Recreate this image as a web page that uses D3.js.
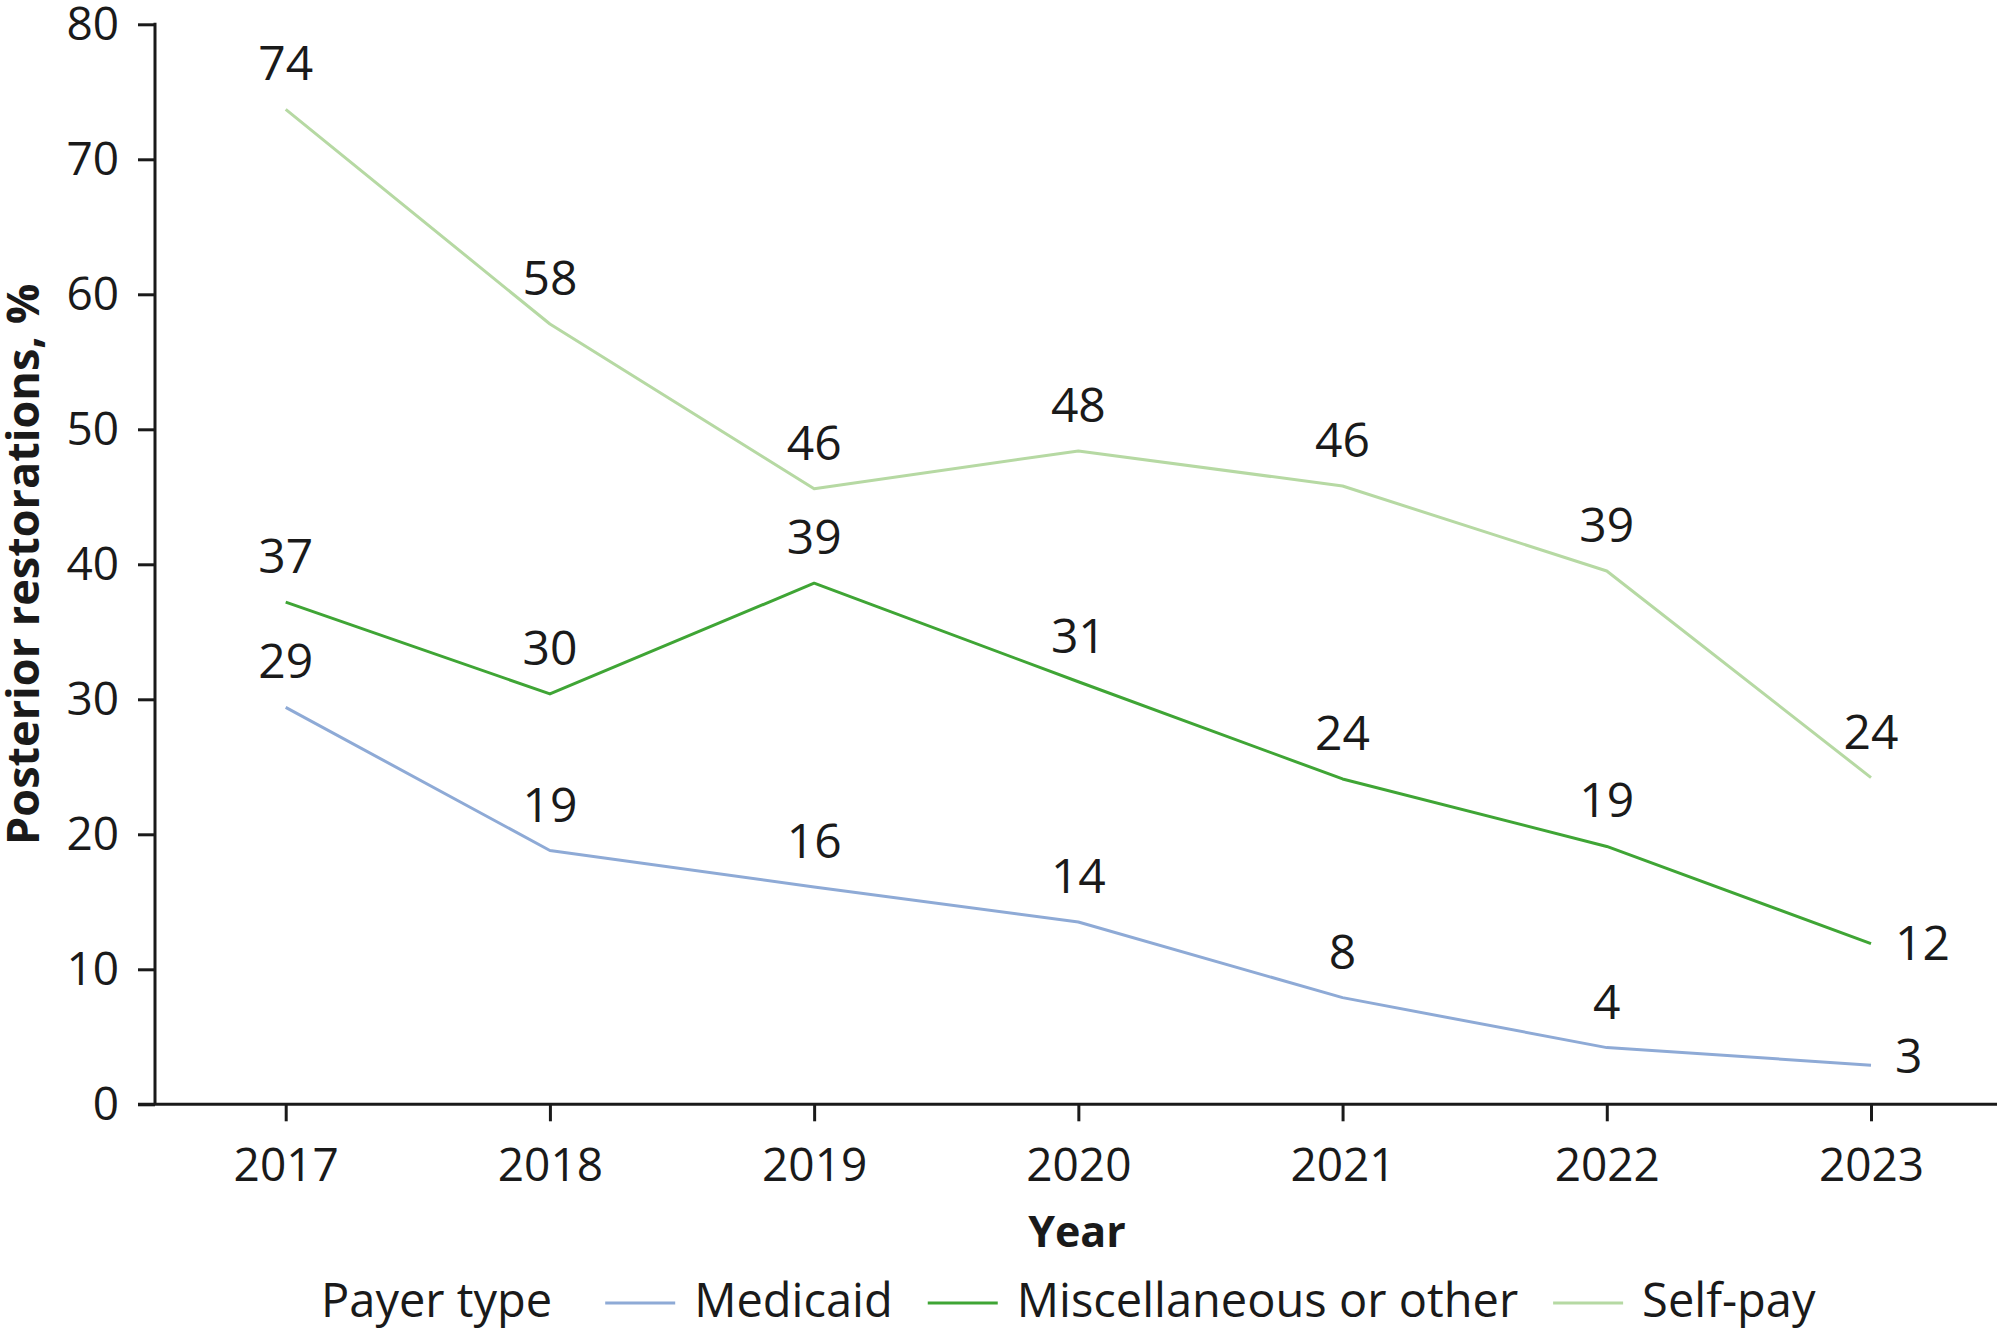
<!DOCTYPE html>
<html>
<head>
<meta charset="utf-8">
<script src="https://cdn.jsdelivr.net/npm/d3@7"></script>
<style>
  html, body { margin: 0; padding: 0; background: #fff; }
  svg { display: block; }
  text { font-family: "Open Sans", "Noto Sans", sans-serif; fill: #1a1a1a; font-weight: 500; }
</style>
</head>
<body>
<svg id="chart" width="1997" height="1334"></svg>
<script>
// ---- data ----
const years = ["2017", "2018", "2019", "2020", "2021", "2022", "2023"];
const seriesNames = ["Medicaid", "Miscellaneous or other", "Self-pay"];
const medicaid = [29.4, 18.8, 16.1, 13.5, 7.9, 4.2, 2.9];
const miscOther = [37.2, 30.4, 38.6, 31.3, 24.1, 19.1, 11.9];
const selfPay = [73.7, 57.8, 45.6, 48.4, 45.8, 39.5, 24.2];
const medicaidLabels = ["29", "19", "16", "14", "8", "4", "3"];
const miscLabels = ["37", "30", "39", "31", "24", "19", "12"];
const selfPayLabels = ["74", "58", "46", "48", "46", "39", "24"];
const yTicks = [0, 10, 20, 30, 40, 50, 60, 70, 80];
const yTitle = "Posterior restorations, %";
const xTitle = "Year";
const legendTitle = "Payer type";

// ---- layout / style ----
const colors = ["#8eaad6", "#3fa535", "#b6d9a3"];
const axisColor = "#1a1a1a";
const svg = d3.select("#chart");

const x = d3.scalePoint().domain(years).range([285.7, 1871]);
const y = d3.scaleLinear().domain([0, 80]).range([1104.3, 24.3]);

// Y axis
const yAxis = d3.axisLeft(y).tickValues(yTicks).tickSize(17).tickPadding(19);
const gy = svg.append("g").attr("transform", "translate(155,0)").call(yAxis);
gy.select(".domain").remove();
gy.append("line").attr("x1", 0).attr("x2", 0).attr("y1", y(80) - 1.5).attr("y2", y(0))
  .attr("stroke", axisColor).attr("stroke-width", 3);
gy.selectAll(".tick line").attr("stroke", axisColor).attr("stroke-width", 3);
gy.selectAll(".tick text").attr("font-size", 46).attr("fill", axisColor)
  .style("font-family", '"Open Sans", sans-serif').style("font-weight", 500);

// X axis
const xAxis = d3.axisBottom(x).tickSize(17).tickPadding(27);
const gx = svg.append("g").attr("transform", `translate(0,${y(0)})`).call(xAxis);
gx.select(".domain").remove();
gx.append("line").attr("x1", 138).attr("x2", 1997).attr("y1", 0).attr("y2", 0)
  .attr("stroke", axisColor).attr("stroke-width", 3);
gx.selectAll(".tick line").attr("stroke", axisColor).attr("stroke-width", 3);
gx.selectAll(".tick text").attr("font-size", 46).attr("fill", axisColor)
  .style("font-family", '"Open Sans", sans-serif').style("font-weight", 500);

// Axis titles
svg.append("text")
  .attr("transform", `translate(39,${(y(0) + y(80)) / 2}) rotate(-90)`)
  .attr("text-anchor", "middle")
  .attr("font-size", 45).style("font-weight", "bold")
  .text(yTitle);
svg.append("text")
  .attr("x", 1077).attr("y", 1247)
  .attr("text-anchor", "middle")
  .attr("font-size", 43).style("font-weight", "bold")
  .text(xTitle);

// Lines
const allSeries = [
  { name: seriesNames[0], values: medicaid, labels: medicaidLabels, color: colors[0] },
  { name: seriesNames[1], values: miscOther, labels: miscLabels, color: colors[1] },
  { name: seriesNames[2], values: selfPay, labels: selfPayLabels, color: colors[2] }
];
const line = d3.line().x((d, i) => x(years[i])).y(d => y(d));
svg.append("g").selectAll("path").data(allSeries).join("path")
  .attr("d", s => line(s.values))
  .attr("fill", "none")
  .attr("stroke", s => s.color)
  .attr("stroke-width", 3)
  .attr("stroke-linejoin", "round");

// Data labels
const labelG = svg.append("g");
allSeries.forEach((s, si) => {
  s.values.forEach((v, i) => {
    const last = i === years.length - 1;
    const sideRight = last && si < 2;
    labelG.append("text")
      .attr("x", sideRight ? x(years[i]) + 24 : x(years[i]))
      .attr("y", sideRight ? y(v) + 16 - (si === 0 ? 8 : 0) : y(v) - 29)
      .attr("text-anchor", sideRight ? "start" : "middle")
      .attr("font-size", 48)
      .text(s.labels[i]);
  });
});

// Legend
const lg = svg.append("g");
let cx = 321;
const ly = 1317;
const t0 = lg.append("text").attr("x", cx).attr("y", ly).attr("font-size", 47).text(legendTitle);
cx += t0.node().getComputedTextLength() + 53;
allSeries.forEach((s, i) => {
  lg.append("line").attr("x1", cx).attr("x2", cx + 70).attr("y1", ly - 14).attr("y2", ly - 14)
    .attr("stroke", s.color).attr("stroke-width", 3);
  cx += 70 + 19;
  const t = lg.append("text").attr("x", cx).attr("y", ly).attr("font-size", 47).text(s.name);
  cx += t.node().getComputedTextLength() + 35;
});
</script>
</body>
</html>
